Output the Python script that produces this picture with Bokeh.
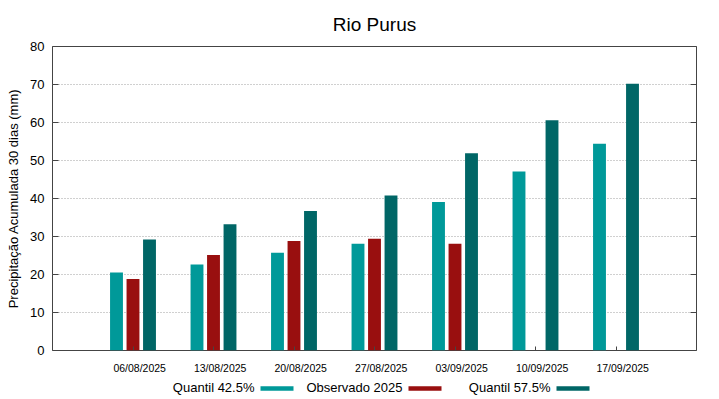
import math
from bokeh.plotting import figure
from bokeh.models import Range1d, FixedTicker, LinearAxis, ColumnDataSource
from bokeh.layouts import column
from bokeh.transform import dodge
from bokeh.core.properties import value
from bokeh.embed import file_html
from bokeh.resources import INLINE

# ---- data ----
dates = ["06/08/2025", "13/08/2025", "20/08/2025", "27/08/2025",
         "03/09/2025", "10/09/2025", "17/09/2025"]
q425 = [20.5, 22.6, 25.7, 28.1, 39.1, 47.1, 54.4]
obs = [18.8, 25.1, 28.8, 29.4, 28.1, math.nan, math.nan]
q575 = [29.2, 33.2, 36.7, 40.8, 51.9, 60.6, 70.2]
series_names = ["Quantil 42.5%", "Observado 2025", "Quantil 57.5%"]
colors = ["#009999", "#990f0f", "#006666"]
y_ticks = [0, 10, 20, 30, 40, 50, 60, 70, 80]

FONT = "Liberation Sans"
W = 719
H_MAIN = 378
H_LEG = 21
BL, BR = 52, 23
xs = list(range(len(dates)))

p = figure(width=W, height=H_MAIN, output_backend="svg", toolbar_location=None,
           x_range=Range1d(-1, 7), y_range=Range1d(0, 80),
           x_axis_location=None, y_axis_location=None,
           min_border_left=BL, min_border_right=BR, min_border_top=43,
           min_border_bottom=28)
p.background_fill_color = "white"
p.border_fill_color = "white"
p.outline_line_color = "#444444"
p.outline_line_width = 1

# title
p.title.text = "Rio Purus"
p.title.align = "center"
p.title.text_font = FONT
p.title.text_font_size = "19px"
p.title.text_font_style = "normal"
p.title.text_color = "#000000"
p.title.standoff = 23

# bars
src = ColumnDataSource(dict(x=xs, q425=q425, obs=obs, q575=q575))
bw = 0.16
off = 0.205
p.vbar(x=dodge("x", -off), top="q425", width=bw, source=src,
       fill_color=colors[0], line_color=None)
p.vbar(x=dodge("x", 0.0), top="obs", width=bw, source=src,
       fill_color=colors[1], line_color=None)
p.vbar(x=dodge("x", off), top="q575", width=bw, source=src,
       fill_color=colors[2], line_color=None)

# y axis (left)
yax = LinearAxis(ticker=FixedTicker(ticks=y_ticks))
yax.axis_line_color = None
yax.major_tick_in = 6
yax.major_tick_out = 0
yax.minor_tick_line_color = None
yax.major_tick_line_color = "#444444"
yax.major_label_standoff = 8
yax.major_label_text_font = FONT
yax.major_label_text_font_size = "13px"
yax.major_label_text_color = "#000000"
yax.axis_label = "Precipitação Acumulada 30 dias (mm)"
yax.axis_label_text_font = FONT
yax.axis_label_text_font_size = "13px"
yax.axis_label_text_font_style = "normal"
yax.axis_label_text_color = "#000000"
yax.axis_label_standoff = 6
p.add_layout(yax, "left")

# right mirror ticks
rax = LinearAxis(ticker=FixedTicker(ticks=y_ticks))
rax.axis_line_color = None
rax.major_tick_in = 6
rax.major_tick_out = 0
rax.minor_tick_line_color = None
rax.major_tick_line_color = "#444444"
rax.major_label_standoff = 0
rax.major_label_overrides = {t: "" for t in y_ticks}
rax.major_label_text_font_size = "1px"
p.add_layout(rax, "right")

# grid
p.xgrid.visible = False
p.ygrid.ticker = FixedTicker(ticks=y_ticks)
p.ygrid.grid_line_color = "#a0a0a0"
p.ygrid.grid_line_dash = "1 2"
p.ygrid.grid_line_width = 1

# x tick marks (inward, at group centres)
xtick_ax = LinearAxis(ticker=FixedTicker(ticks=xs))
xtick_ax.axis_line_color = None
xtick_ax.major_tick_in = 4
xtick_ax.major_tick_out = 0
xtick_ax.minor_tick_line_color = None
xtick_ax.major_tick_line_color = "#444444"
xtick_ax.major_label_standoff = 0
xtick_ax.major_label_overrides = {i: "" for i in xs}
xtick_ax.major_label_text_font_size = "1px"
p.add_layout(xtick_ax, "below")

# x labels (slightly right of the group centre, as in the original)
lab_off = 0.083
lab_pos = [i + lab_off for i in xs]
xlab_ax = LinearAxis(ticker=FixedTicker(ticks=lab_pos))
xlab_ax.axis_line_color = None
xlab_ax.major_tick_in = 0
xlab_ax.major_tick_out = 0
xlab_ax.minor_tick_line_color = None
xlab_ax.major_label_standoff = 11
xlab_ax.major_label_overrides = {pos: d for pos, d in zip(lab_pos, dates)}
xlab_ax.major_label_text_font = FONT
xlab_ax.major_label_text_font_size = "10.5px"
xlab_ax.major_label_text_color = "#000000"
p.add_layout(xlab_ax, "below")

# ---- legend strip (gnuplot style: text, then sample line) ----
# the strip's frame is aligned with the main frame, so its x range is given
# in page pixels spanning that frame
leg = figure(width=W, height=H_LEG, output_backend="svg", toolbar_location=None,
             x_range=Range1d(BL, W - BR), y_range=Range1d(H_LEG, 0),
             x_axis_location=None, y_axis_location=None, min_border=0,
             min_border_left=BL, min_border_right=BR)
leg.outline_line_color = None
leg.xgrid.visible = False
leg.ygrid.visible = False
leg.background_fill_color = "white"
leg.border_fill_color = "white"

text_right = [254, 402, 550]
sample_center = [276.5, 424.5, 572.5]
leg_src = ColumnDataSource(dict(tx=text_right, ty=[9] * 3, name=series_names,
                                sx=sample_center, sy=[10] * 3, color=colors))
leg.text(x="tx", y="ty", text="name", source=leg_src, text_align="right",
         text_baseline="middle", text_font=value(FONT), text_font_size="13px",
         text_color="#000000")
leg.rect(x="sx", y="sy", width=33, height=4.5, source=leg_src,
         fill_color="color", line_color=None)

layout = column(p, leg, spacing=0)
open("out.html", "w").write(file_html(layout, INLINE))
